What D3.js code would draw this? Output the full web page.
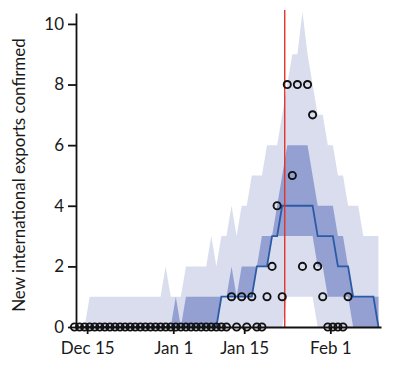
<!DOCTYPE html>
<html>
<head>
<meta charset="utf-8">
<script src="https://cdn.jsdelivr.net/npm/d3@7"></script>
<style>
body { margin: 0; background: #fff; }
svg { display: block; font-family: Lato, "Open Sans", sans-serif; }
</style>
</head>
<body>
<script>
// model output, one value per day starting 13 Dec 2019
var bandStart = new Date(2019, 11, 13);
var upper95 = [0,0, 1,1,1,1,1,1,1,1,1,1,1,1,1,1,1, 2,1,1,1, 2,2,2,2,2, 3,2,3,3,4,3,4,4,
	5,5,5,6,6,6,7,8,9,9,10.4,9,8,7,7,6,6,5,5,4,4,4,3,3,3,3];
var upper50 = [0,0,0,0,0,0,0,0,0,0,0,0,0,0,0,0,0,0,0, 1,0, 1,1,1,1,1,1,1,1,1, 2,1, 2,2,2,2,
	3,3,3, 4,5, 6,6,6,6,6, 5, 4,4,4,4, 3,3, 2, 1,1,1,1,1,1];
var median = [0,0,0,0,0,0,0,0,0,0,0,0,0,0,0,0,0,0,0,0,0,0,0,0,0,0,0,0,
	1,1,1,1,1,1,1, 2,2,2, 3,3, 4,4,4,4,4,4,4, 3,3,3,3, 2,2,2, 1,1,1,1,1, 0];
var lower50 = [0,0,0,0,0,0,0,0,0,0,0,0,0,0,0,0,0,0,0,0,0,0,0,0,0,0,0,0,
	1,1,1,1,1,1,1, 2,2,2, 3,3,3,3,3,3,3,3,3, 2,2, 1,1,1,1,1, 0,0,0,0,0,0];
var lower95 = [0,0,0,0,0,0,0,0,0,0,0,0,0,0,0,0,0,0,0,0,0,0,0,0,0,0,0,0,0,0,0,0,0,0,0,0,0,0,0,0,0,
	1,1,1,1,1,1, 0,0,0,0,0,0,0,0,0,0,0,0,0];

// observed exports confirmed, one value per day starting 12 Dec 2019
var obsStart = new Date(2019, 11, 12);
var observed = [0,0,0,0,0,0,0,0,0,0,0,0,0,0,0,0,0,0,0,0,0,0,0,0,0,0,0,0,0,0,0,
	1,0,1,0,1,0,0,1,2,4,1,8,5,8,2,8,7,2,1,0,0,0,0,1];

var tickDates = [new Date(2019, 11, 15), new Date(2020, 0, 1), new Date(2020, 0, 15), new Date(2020, 1, 1)];
var tickLabels = ["Dec 15", "Jan 1", "Jan 15", "Feb 1"];
var yTicks = [0, 2, 4, 6, 8, 10];
var lockdown = new Date(2020, 0, 23);

var width = 400;
var height = 370;

var x = d3.scaleTime()
		.domain([new Date(2019, 11, 13), new Date(2020, 1, 11)])
		.range([77, 381]);

var y = d3.scaleLinear()
		.domain([0, 10.36])
		.range([327, 13]);

//values are plotted at midday
function noon(start, i)
{
	return d3.timeHour.offset(d3.timeDay.offset(start, i), 12);
}

var rows = upper95.map(function(d, i) {
	return { date: noon(bandStart, i), u95: d, u50: upper50[i], med: median[i], l50: lower50[i], l95: lower95[i] };
});

var points = observed.map(function(d, i) {
	return { date: noon(obsStart, i), value: d };
});

var svg = d3.select("body")
			.append("svg")
			.attr("width", width)
			.attr("height", height);

//95% band
svg.append("path")
	.datum(rows)
	.attr("fill", "#dadded")
	.attr("d", d3.area()
		.x(function(d) { return x(d.date); })
		.y0(function(d) { return y(d.l95); })
		.y1(function(d) { return y(d.u95); }));

//50% band
svg.append("path")
	.datum(rows)
	.attr("fill", "#94a0d2")
	.attr("d", d3.area()
		.x(function(d) { return x(d.date); })
		.y0(function(d) { return y(d.l50); })
		.y1(function(d) { return y(d.u50); }));

//median
svg.append("path")
	.datum(rows)
	.attr("fill", "none")
	.attr("stroke", "#2b5ba7")
	.attr("stroke-width", 1.8)
	.attr("d", d3.line()
		.x(function(d) { return x(d.date); })
		.y(function(d) { return y(d.med); }));

//travel restrictions
svg.append("line")
	.attr("x1", x(lockdown))
	.attr("x2", x(lockdown))
	.attr("y1", 10)
	.attr("y2", y(0))
	.attr("stroke", "#e2342a")
	.attr("stroke-width", 1.4);

//x axis
svg.append("g")
	.attr("transform", "translate(0," + y(0) + ")")
	.call(d3.axisBottom(x)
		.tickValues(tickDates)
		.tickFormat(function(d, i) { return tickLabels[i]; })
		.tickSize(7)
		.tickSizeOuter(0)
		.tickPadding(8));

//y axis
svg.append("g")
	.attr("transform", "translate(76,0)")
	.call(d3.axisLeft(y)
		.tickValues(yTicks)
		.tickSize(8)
		.tickSizeOuter(0)
		.tickPadding(4));

svg.selectAll(".domain, .tick line")
	.attr("stroke", "#111")
	.attr("stroke-width", 1.8);

svg.selectAll(".tick text")
	.attr("fill", "#1a1a1a")
	.style("font-size", "17px")
	.style("font-family", "Lato, 'Open Sans', sans-serif");

//observed points
svg.selectAll("circle")
	.data(points)
	.enter()
		.append("circle")
		.attr("cx", function(d) { return x(d.date); })
		.attr("cy", function(d) { return y(d.value); })
		.attr("r", 3.6)
		.attr("fill", "none")
		.attr("stroke", "#111")
		.attr("stroke-width", 1.9);

svg.append("text")
	.attr("transform", "translate(25,175) rotate(-90)")
	.attr("text-anchor", "middle")
	.attr("fill", "#1a1a1a")
	.style("font-size", "17px")
	.text("New international exports confirmed");
</script>
</body>
</html>
